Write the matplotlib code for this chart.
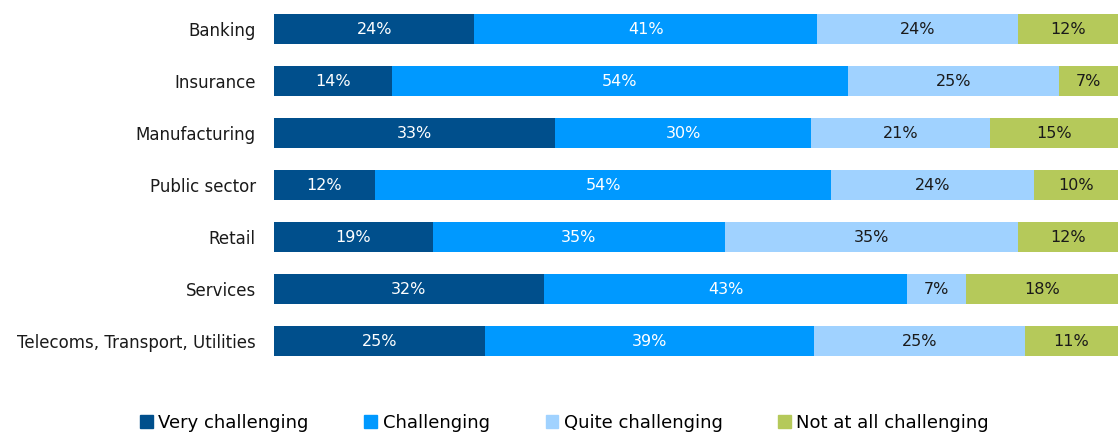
import numpy as np
import matplotlib.pyplot as plt
from matplotlib.patches import Patch

plt.rcParams['font.family'] = ['DejaVu Sans']

sectors = ["Banking", "Insurance", "Manufacturing", "Public sector", "Retail",
           "Services", "Telecoms, Transport, Utilities"]
series_names = ["Very challenging", "Challenging", "Quite challenging", "Not at all challenging"]
very = [24, 14, 33, 12, 19, 32, 25]
chall = [41, 54, 30, 54, 35, 43, 39]
quite = [24, 25, 21, 24, 35, 7, 25]
not_at_all = [12, 7, 15, 10, 12, 18, 11]

colors = ["#004F8C", "#0099FF", "#A0D2FF", "#B5C95A"]
text_colors = ["white", "white", "#1a1a1a", "#1a1a1a"]

values = np.array([very, chall, quite, not_at_all], dtype=float)
# 100% stacked: each row fills the full width
shares = values / values.sum(axis=0) * 100

fig = plt.figure(figsize=(11.18, 4.33), dpi=100)
ax = fig.add_axes([0.245, 0.1524, 0.755, 0.8406])

y = np.arange(len(sectors))
left = np.zeros(len(sectors))
for i in range(len(series_names)):
    ax.barh(y, shares[i], left=left, height=0.58, color=colors[i], label=series_names[i])
    for j in range(len(sectors)):
        ax.text(left[j] + shares[i][j] / 2, y[j], f"{int(values[i][j])}%", ha="center", va="center",
                color=text_colors[i], fontsize=11.5)
    left += shares[i]

ax.set_xlim(0, 100)
ax.set_ylim(6.5, -0.5)
ax.set_yticks(y)
ax.set_yticklabels(sectors, fontsize=12, color="#1a1a1a")
ax.tick_params(axis="y", length=0, pad=13)
ax.set_xticks([])
for s in ax.spines.values():
    s.set_visible(False)

handles = [Patch(color=c) for c in colors]
fig.legend(handles, series_names, loc="center", bbox_to_anchor=(0.505, 0.023), ncol=4, frameon=False,
           fontsize=13, handlelength=0.7, handleheight=0.7, handletextpad=0.3, columnspacing=3.1)

fig.savefig("out.png", dpi=100)
